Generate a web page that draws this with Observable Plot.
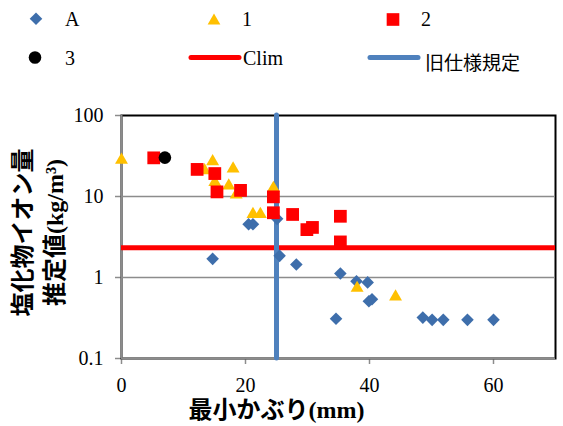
<!DOCTYPE html>
<html><head><meta charset="utf-8">
<script src="https://cdn.jsdelivr.net/npm/d3@7"></script>
<script src="https://cdn.jsdelivr.net/npm/@observablehq/plot@0.6"></script>
<style>
body{margin:0;background:#fff;overflow:hidden;}
#wrap{width:563px;height:426px;overflow:hidden;background:#fff;}
#legend,#chart{display:block;}
svg{display:block;}
</style></head><body>
<div id="wrap"><div id="legend"></div><div id="chart"></div></div>
<script>
// ---- data ----
const seriesNames = ["A", "1", "2", "3", "Clim", "旧仕様規定"];
const aX = [14.7, 20.5, 21.2, 25.1, 25.5, 28.2, 34.6, 35.3, 37.9, 39.7, 39.9, 40.4, 48.6, 50.1, 51.9, 55.8, 60.0];
const aY = [1.7, 4.55, 4.55, 5.3, 1.85, 1.45, 0.31, 1.12, 0.9, 0.87, 0.51, 0.54, 0.32, 0.3, 0.3, 0.3, 0.3];
const s1X = [0, 13.4, 14.7, 15.05, 17.3, 18.0, 18.5, 21.2, 22.4, 24.5, 38.0, 44.2];
const s1Y = [28.3, 21, 27, 15, 13.6, 22, 10.5, 6.05, 6.05, 12.7, 0.74, 0.58];
const s2X = [5.2, 12.2, 15.05, 15.4, 19.2, 24.5, 24.5, 27.6, 29.9, 30.8, 35.3, 35.3];
const s2Y = [30, 21.6, 19.2, 11.4, 11.9, 9.9, 6.3, 6.0, 3.9, 4.15, 5.7, 2.75];
const s3X = [7.0];
const s3Y = [30.2];
const climValue = [2.33];
const oldSpecX = [25];
const xTicks = [0, 20, 40, 60];
const yTicks = [0.1, 1, 10, 100];
const yTickLabels = ["0.1", "1", "10", "100"];
const gridY = [1, 10];
const xTitle = "最小かぶり(mm)";
const yTitle = ["塩化物イオン量", "推定値(kg/m³)"];

const toRows = (xs, ys) => xs.map((x, i) => ({x, y: ys[i]}));
const dA = toRows(aX, aY), d1 = toRows(s1X, s1Y), d2 = toRows(s2X, s2Y), d3r = toRows(s3X, s3Y);

const SERIF = '"Liberation Serif", "Times New Roman", Times, serif';
const MIXED = '"Liberation Serif", "Times New Roman", "Noto Sans CJK JP", serif';
const CJK = '"Noto Sans CJK JP", sans-serif';
const cBlue = "#3e6eab", cYellow = "#ffc000", cRed = "#ff0000", cLine = "#4f81bd", cGray = "#8c8c8c";

// ---- legend ----
const lg = d3.select("#legend").append("svg").attr("width", 563).attr("height", 80)
  .style("font-family", SERIF).style("font-size", "20px");
lg.append("path").attr("d", d3.symbol(d3.symbolDiamond2, 101)()).attr("transform", "translate(36,18.7)").attr("fill", cBlue);
lg.append("text").attr("x", 65).attr("y", 26).text(seriesNames[0]);
lg.append("path").attr("d", d3.symbol(d3.symbolTriangle, 70)()).attr("transform", "translate(214,20.8)").attr("fill", cYellow);
lg.append("text").attr("x", 242).attr("y", 26).text(seriesNames[1]);
lg.append("path").attr("d", d3.symbol(d3.symbolSquare, 160)()).attr("transform", "translate(393,19.5)").attr("fill", cRed);
lg.append("text").attr("x", 421).attr("y", 26).text(seriesNames[2]);
lg.append("circle").attr("cx", 35).attr("cy", 57.5).attr("r", 6.3).attr("fill", "#000");
lg.append("text").attr("x", 65).attr("y", 65).text(seriesNames[3]);
lg.append("line").attr("x1", 191).attr("x2", 239).attr("y1", 57.5).attr("y2", 57.5).attr("stroke", cRed).attr("stroke-width", 5).attr("stroke-linecap", "round");
lg.append("text").attr("x", 243).attr("y", 65).text(seriesNames[4]);
lg.append("line").attr("x1", 370).attr("x2", 418).attr("y1", 57.5).attr("y2", 57.5).attr("stroke", cLine).attr("stroke-width", 5).attr("stroke-linecap", "round");
lg.append("text").attr("x", 425).attr("y", 70).style("font-family", CJK).style("font-size", "19px").text(seriesNames[5]);

// ---- chart ----
const chart = Plot.plot({
  width: 563, height: 346,
  marginTop: 35, marginBottom: 68, marginLeft: 121, marginRight: 8,
  style: {fontFamily: SERIF, fontSize: "20px", background: "#fff", color: "#000", overflow: "visible", maxWidth: "none"},
  x: {domain: [0, 70], ticks: xTicks, tickSize: 6, tickPadding: 13, tickFormat: d => String(d), label: null},
  y: {type: "log", domain: [0.1, 100], ticks: yTicks, tickFormat: d => yTickLabels[yTicks.indexOf(d)] ?? "", tickSize: 6, tickPadding: 12, label: null},
  marks: [
    Plot.frame({stroke: "#000", strokeWidth: 2}),
    Plot.ruleY(gridY, {stroke: cGray, strokeWidth: 1.3}),
    Plot.ruleX([0], {stroke: cGray, strokeWidth: 2}),
    Plot.ruleY([0.1], {stroke: cGray, strokeWidth: 2}),
    Plot.ruleY(climValue, {stroke: cRed, strokeWidth: 5}),
    Plot.ruleX(oldSpecX, {stroke: cLine, strokeWidth: 5, strokeLinecap: "round"}),
    Plot.dot(dA, {x: "x", y: "y", symbol: "diamond2", r: 5.67, fill: cBlue, stroke: "none"}),
    Plot.dot(d1, {x: "x", y: "y", symbol: "triangle", r: 4.8, fill: cYellow, stroke: "none"}),
    Plot.dot(d2, {x: "x", y: "y", symbol: "square", r: 7.2, fill: cRed, stroke: "none"}),
    Plot.dot(d3r, {x: "x", y: "y", symbol: "circle", r: 6.3, fill: "#000", stroke: "none"}),
    Plot.text([xTitle], {frameAnchor: "bottom", textAnchor: "middle", dx: -62, dy: 52, lineAnchor: "middle", fontSize: 24, fontWeight: "bold", fill: "#000", fontFamily: MIXED}),
    Plot.text([yTitle.join("\n")], {frameAnchor: "left", textAnchor: "middle", rotate: -90, dx: -85, dy: -4.5, lineAnchor: "middle", lineHeight: 1.33, fontSize: 24, fontWeight: "bold", fill: "#000", fontFamily: MIXED})
  ]
});
document.getElementById("chart").appendChild(chart);
// gray tick marks like the reference
d3.select(chart).selectAll('[aria-label$="axis tick"] path, [aria-label$="-axis"] .tick line').attr("stroke", cGray).style("stroke-width", 1.5);
</script>
</body></html>
